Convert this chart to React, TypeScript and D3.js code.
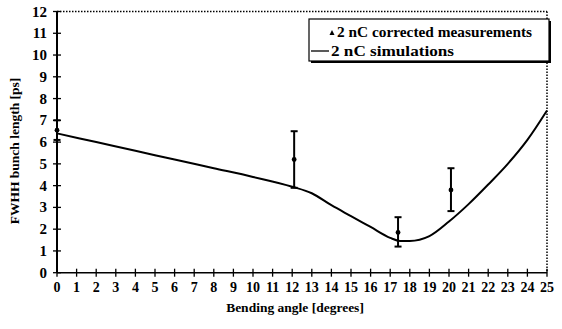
import React from 'react';
import * as d3 from 'd3';

// simulation curve, 2 nC (angle in degrees, FWHH in ps)
const simAngles = [0, 2, 4, 6, 8, 10, 12, 13, 14, 15, 16, 17, 17.5, 18, 19, 20, 21, 22, 23, 24, 25];
const simValues = [6.4, 6.0, 5.6, 5.2, 4.8, 4.4, 3.95, 3.65, 3.1, 2.6, 2.1, 1.6, 1.46, 1.46, 1.68, 2.35, 3.15, 4.05, 5.0, 6.1, 7.45];

// corrected measurements with error bars
const measAngles = [0, 12.1, 17.4, 20.1];
const measValues = [6.55, 5.2, 1.85, 3.8];
const measLow = [6.1, 3.9, 1.2, 2.83];
const measHigh = [7.0, 6.5, 2.55, 4.8];

const xTicks = d3.range(0, 26);
const yTicks = d3.range(0, 13);

const W = 562;
const H = 329;
const font = 'Liberation Serif';

export default function App() {
  const x = d3.scaleLinear().domain([0, 25]).range([57, 547]);
  const y = d3.scaleLinear().domain([0, 12]).range([272.7, 11.5]);

  const sim = simAngles.map((a, i) => [a, simValues[i]] as [number, number]);
  const line = d3.line<[number, number]>()
    .x(d => x(d[0]))
    .y(d => y(d[1]))
    .curve(d3.curveMonotoneX);

  const x0 = x(0), x1 = x(25), y0 = y(0), y1 = y(12);

  return (
    <svg width={W} height={H} style={{ position: 'absolute', left: 0, top: 0, background: '#fff' }}
      fontFamily={font} fontWeight="bold">
      {/* dotted top and right frame */}
      <line x1={x0} y1={y1} x2={x1} y2={y1} stroke="#000" strokeWidth={1.5} strokeDasharray="1.5,1.5" />
      <line x1={x1} y1={y1} x2={x1} y2={y0} stroke="#000" strokeWidth={1.5} strokeDasharray="1.5,1.5" />

      {/* axes */}
      <line x1={x0} y1={y0} x2={x1} y2={y0} stroke="#000" strokeWidth={1.6} />
      <line x1={x0} y1={y0} x2={x0} y2={y1} stroke="#000" strokeWidth={2} />

      {xTicks.map(t => (
        <g key={'xt' + t}>
          <line x1={x(t)} x2={x(t)} y1={y0 - 4} y2={y0 + 4} stroke="#000" strokeWidth={1.3} />
          <text x={x(t)} y={y0 + 19} textAnchor="middle" fontSize={14}>{t}</text>
        </g>
      ))}
      {yTicks.map(t => (
        <g key={'yt' + t}>
          <line x1={x0 - 4} x2={x0 + 4} y1={y(t)} y2={y(t)} stroke="#000" strokeWidth={1.3} />
          <text x={x0 - 10} y={y(t) + 5} textAnchor="end" fontSize={15}>{t}</text>
        </g>
      ))}

      {/* axis titles */}
      <text x={295} y={312} textAnchor="middle" fontSize={13.5}>Bending angle [degrees]</text>
      <text transform={`translate(19,151) rotate(-90)`} textAnchor="middle" fontSize={13.5}>FWHH bunch length [ps]</text>

      {/* simulation */}
      <path d={line(sim) || ''} fill="none" stroke="#000" strokeWidth={2} />

      {/* measurements */}
      {measAngles.map((a, i) => (
        <g key={'m' + i}>
          <line x1={x(a)} x2={x(a)} y1={y(measLow[i])} y2={y(measHigh[i])} stroke="#000" strokeWidth={2} />
          <line x1={x(a) - 3.5} x2={x(a) + 3.5} y1={y(measLow[i])} y2={y(measLow[i])} stroke="#000" strokeWidth={2} />
          <line x1={x(a) - 3.5} x2={x(a) + 3.5} y1={y(measHigh[i])} y2={y(measHigh[i])} stroke="#000" strokeWidth={2} />
          <circle cx={x(a)} cy={y(measValues[i])} r={2.4} fill="#000" />
        </g>
      ))}

      {/* legend */}
      <rect x={311} y={21} width={240} height={42} fill="#000" />
      <rect x={309} y={19} width={240} height={42} fill="#fff" stroke="#000" strokeWidth={1.2} />
      <path d="M329.5,35 L332,30 L334.5,35 Z" fill="#000" />
      <text x={337} y={37} fontSize={14.5} textLength={195} lengthAdjust="spacingAndGlyphs">2 nC corrected measurements</text>
      <line x1={311} x2={329} y1={51} y2={51} stroke="#000" strokeWidth={1.3} />
      <text x={331} y={56} fontSize={14.5} textLength={123} lengthAdjust="spacingAndGlyphs">2 nC simulations</text>
    </svg>
  );
}
